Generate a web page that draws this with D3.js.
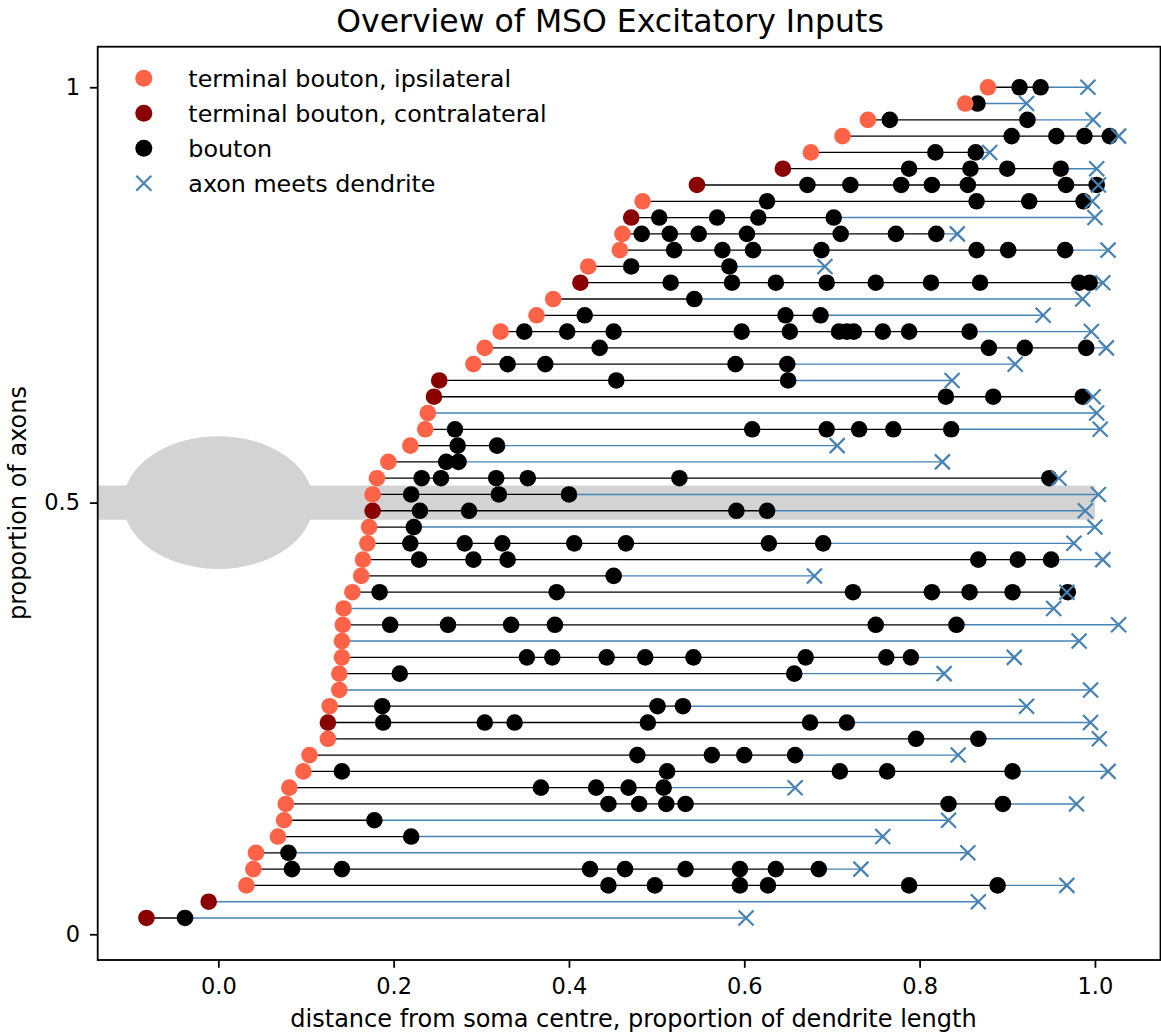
<!DOCTYPE html>
<html>
<head>
<meta charset="utf-8">
<script src="https://cdn.jsdelivr.net/npm/d3@7"></script>
<style>
  body { margin: 0; background: #fff; }
  text { font-family: "DejaVu Sans", sans-serif; fill: #000; }
</style>
</head>
<body>
<div id="chart"></div>
<script>
// one entry per axon, from the bottom row (1) to the top row (52)
const terminalX = [
  -0.082, -0.011, 0.032, 0.040, 0.043, 0.068, 0.075, 0.077, 0.081, 0.097,
  0.104, 0.125, 0.125, 0.127, 0.138, 0.138, 0.141, 0.141, 0.142, 0.143,
  0.153, 0.163, 0.165, 0.170, 0.172, 0.176, 0.176, 0.181, 0.194, 0.219,
  0.236, 0.239, 0.246, 0.252, 0.291, 0.304, 0.322, 0.363, 0.382, 0.413,
  0.422, 0.458, 0.461, 0.471, 0.484, 0.546, 0.644, 0.676, 0.712, 0.741,
  0.852, 0.878
];

// 'i' = ipsilateral, 'c' = contralateral
const terminalSide = [
  'c', 'c', 'i', 'i', 'i', 'i', 'i', 'i', 'i', 'i',
  'i', 'i', 'c', 'i', 'i', 'i', 'i', 'i', 'i', 'i',
  'i', 'i', 'i', 'i', 'i', 'c', 'i', 'i', 'i', 'i',
  'i', 'i', 'c', 'c', 'i', 'i', 'i', 'i', 'i', 'c',
  'i', 'i', 'i', 'c', 'i', 'c', 'c', 'i', 'i', 'i',
  'i', 'i'
];

const boutons = [
  [-0.038],
  [],
  [0.445, 0.498, 0.595, 0.627, 0.788, 0.889],
  [0.084, 0.141, 0.424, 0.464, 0.533, 0.595, 0.636, 0.685],
  [0.080],
  [0.220],
  [0.178],
  [0.445, 0.480, 0.511, 0.533, 0.833, 0.895],
  [0.368, 0.431, 0.468, 0.508],
  [0.141, 0.512, 0.709, 0.763, 0.906],
  [0.478, 0.563, 0.600, 0.658],
  [0.796, 0.867],
  [0.188, 0.304, 0.338, 0.490, 0.675, 0.717],
  [0.187, 0.501, 0.530],
  [],
  [0.207, 0.657],
  [0.352, 0.381, 0.443, 0.487, 0.542, 0.670, 0.762, 0.790],
  [],
  [0.196, 0.262, 0.334, 0.384, 0.750, 0.842],
  [],
  [0.184, 0.386, 0.724, 0.814, 0.857, 0.906, 0.969],
  [0.451],
  [0.229, 0.291, 0.330, 0.867, 0.912, 0.950],
  [0.219, 0.281, 0.324, 0.406, 0.465, 0.628, 0.690],
  [0.223],
  [0.230, 0.286, 0.591, 0.626],
  [0.220, 0.320, 0.400],
  [0.232, 0.254, 0.317, 0.353, 0.526, 0.948],
  [0.260, 0.274],
  [0.273, 0.318],
  [0.270, 0.609, 0.694, 0.731, 0.770, 0.836],
  [],
  [0.830, 0.884, 0.986],
  [0.454, 0.650],
  [0.330, 0.373, 0.590, 0.649],
  [0.435, 0.879, 0.920, 0.990],
  [0.349, 0.398, 0.451, 0.597, 0.652, 0.708, 0.717, 0.725, 0.758, 0.788, 0.857],
  [0.418, 0.647, 0.687],
  [0.543],
  [0.516, 0.586, 0.636, 0.694, 0.750, 0.813, 0.869, 0.982, 0.994],
  [0.471, 0.583],
  [0.520, 0.575, 0.610, 0.688, 0.865, 0.901, 0.966],
  [0.483, 0.515, 0.548, 0.603, 0.710, 0.773, 0.819],
  [0.503, 0.569, 0.616, 0.702],
  [0.626, 0.865, 0.925, 0.987],
  [0.672, 0.721, 0.779, 0.814, 0.855, 0.967, 1.002],
  [0.788, 0.858, 0.900, 0.961],
  [0.818, 0.864],
  [0.905, 0.956, 0.988, 1.017],
  [0.766, 0.923],
  [0.866],
  [0.914, 0.938]
];

// where the axon meets the dendrite
const meetX = [
  0.602, 0.867, 0.968, 0.733, 0.855, 0.758, 0.833, 0.979, 0.658, 1.015,
  0.844, 1.005, 0.995, 0.922, 0.995, 0.828, 0.908, 0.982, 1.027, 0.953,
  0.968, 0.680, 1.009, 0.976, 1.000, 0.989, 1.004, 0.959, 0.826, 0.706,
  1.006, 1.002, 0.998, 0.837, 0.909, 1.013, 0.996, 0.941, 0.986, 1.009,
  0.692, 1.015, 0.843, 1.000, 0.997, 1.004, 1.002, 0.880, 1.027, 0.998,
  0.922, 0.992
];

const xTicks = [0.0, 0.2, 0.4, 0.6, 0.8, 1.0];
const yTickRows = [0, 26.5, 52];
const yTickLabels = ['0', '0.5', '1'];

const colors = { i: '#ff6347', c: '#8b0000', bouton: '#000', meet: '#4682b4', soma: '#d3d3d3' };

const W = 1161, H = 1034;
const plot = { left: 97.7, right: 1160.5, top: 46.7, bottom: 960 };

const svg = d3.select('#chart').append('svg')
  .attr('width', W)
  .attr('height', H);

const x = d3.scaleLinear().domain([-0.1376, 1.0748]).range([plot.left, plot.right]);
const y = d3.scaleLinear().domain([-1.58, 54.49]).range([plot.bottom, plot.top]);

const rows = terminalX.map((t, i) => ({
  row: i + 1,
  start: t,
  side: terminalSide[i],
  boutons: boutons[i],
  meet: meetX[i],
  last: boutons[i].length ? boutons[i][boutons[i].length - 1] : t
}));

const g = svg.append('g');
g.append('clipPath').attr('id', 'clip')
  .append('rect')
  .attr('x', plot.left).attr('y', plot.top)
  .attr('width', plot.right - plot.left).attr('height', plot.bottom - plot.top);

const area = g.append('g').attr('clip-path', 'url(#clip)');

// soma and dendrite
const somaRow = 26.5;
area.append('rect')
  .attr('x', x(-0.2))
  .attr('y', y(somaRow + 1.05))
  .attr('width', x(1.0) - x(-0.2))
  .attr('height', y(somaRow - 1.05) - y(somaRow + 1.05))
  .attr('fill', colors.soma);

area.append('ellipse')
  .attr('cx', x(0))
  .attr('cy', y(somaRow))
  .attr('rx', x(0.1084) - x(0))
  .attr('ry', y(somaRow - 4.07) - y(somaRow))
  .attr('fill', colors.soma);

const r = 8.3;
const xs = 7.5;
const cross = (h) => `M${-h},${-h}L${h},${h}M${-h},${h}L${h},${-h}`;

rows.forEach((d) => {
  const row = area.append('g');
  const yy = y(d.row);

  row.append('line')
    .attr('x1', x(d.start)).attr('x2', x(d.last))
    .attr('y1', yy).attr('y2', yy)
    .attr('stroke', '#000').attr('stroke-width', 1.3);

  row.append('line')
    .attr('x1', x(d.last)).attr('x2', x(d.meet))
    .attr('y1', yy).attr('y2', yy)
    .attr('stroke', colors.meet).attr('stroke-width', 1.4);

  row.selectAll('circle.bouton')
    .data(d.boutons)
    .enter()
    .append('circle')
    .attr('class', 'bouton')
    .attr('cx', (b) => x(b))
    .attr('cy', yy)
    .attr('r', r)
    .attr('fill', colors.bouton);

  row.append('path')
    .attr('d', cross(xs))
    .attr('transform', `translate(${x(d.meet)},${yy})`)
    .attr('fill', 'none')
    .attr('stroke', colors.meet)
    .attr('stroke-width', 2.2);

  row.append('circle')
    .attr('cx', x(d.start))
    .attr('cy', yy)
    .attr('r', r)
    .attr('fill', colors[d.side]);
});

// axes
const xAxis = svg.append('g')
  .attr('transform', `translate(0,${plot.bottom})`)
  .call(d3.axisBottom(x).tickValues(xTicks).tickFormat(d3.format('.1f')).tickSize(7.8).tickPadding(10.5));

const yAxis = svg.append('g')
  .attr('transform', `translate(${plot.left},0)`)
  .call(d3.axisLeft(y).tickValues(yTickRows).tickFormat((d, i) => yTickLabels[i]).tickSize(7.8).tickPadding(9.9));

[xAxis, yAxis].forEach((a) => {
  a.select('.domain').remove();
  a.selectAll('line').attr('stroke', '#000').attr('stroke-width', 1.8);
  a.selectAll('text').style('font-size', '22.5px').attr('fill', '#000');
});

svg.append('rect')
  .attr('x', plot.left).attr('y', plot.top)
  .attr('width', plot.right - plot.left).attr('height', plot.bottom - plot.top)
  .attr('fill', 'none').attr('stroke', '#000').attr('stroke-width', 1.8);

// titles
svg.append('text')
  .attr('x', 610).attr('y', 32)
  .attr('text-anchor', 'middle')
  .style('font-size', '31.5px')
  .text('Overview of MSO Excitatory Inputs');

svg.append('text')
  .attr('x', 633.5).attr('y', 1027)
  .attr('text-anchor', 'middle')
  .style('font-size', '24px')
  .text('distance from soma centre, proportion of dendrite length');

svg.append('text')
  .attr('transform', 'translate(26,503) rotate(-90)')
  .attr('text-anchor', 'middle')
  .style('font-size', '24px')
  .text('proportion of axons');

// legend
const legendItems = [
  { label: 'terminal bouton, ipsilateral', kind: 'dot', color: colors.i },
  { label: 'terminal bouton, contralateral', kind: 'dot', color: colors.c },
  { label: 'bouton', kind: 'dot', color: colors.bouton },
  { label: 'axon meets dendrite', kind: 'cross', color: colors.meet }
];

const legend = svg.append('g').attr('transform', 'translate(143.8,78.3)');

legendItems.forEach((item, i) => {
  const li = legend.append('g').attr('transform', `translate(0,${i * 35})`);
  if (item.kind === 'dot') {
    li.append('circle').attr('r', 8.5).attr('fill', item.color);
  } else {
    li.append('path').attr('d', cross(7.5)).attr('fill', 'none')
      .attr('stroke', item.color).attr('stroke-width', 2.2);
  }
  li.append('text')
    .attr('x', 44.5)
    .attr('dy', '0.36em')
    .style('font-size', '23.8px')
    .text(item.label);
});
</script>
</body>
</html>
